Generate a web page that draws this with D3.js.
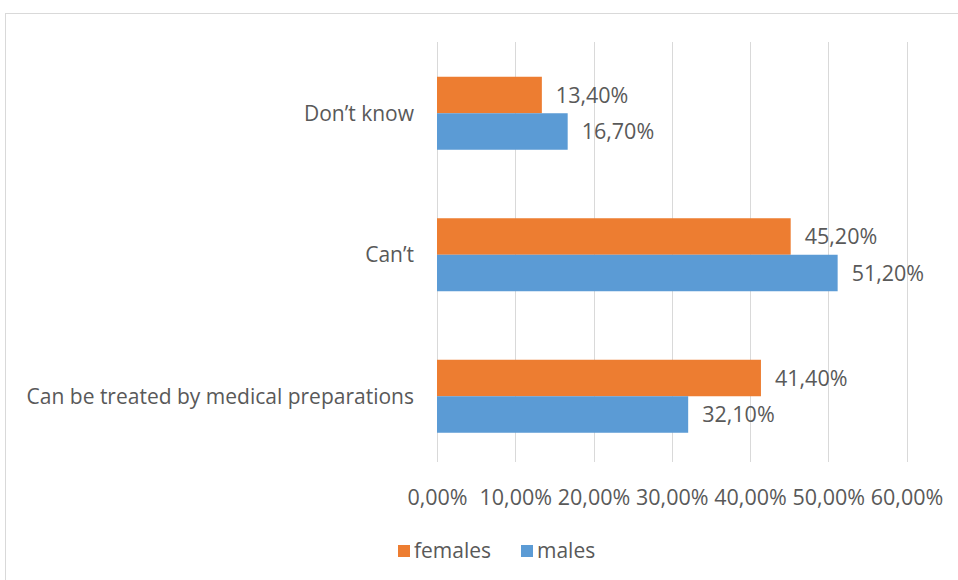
<!DOCTYPE html>
<html><head><meta charset="utf-8">
<script src="https://cdn.jsdelivr.net/npm/d3@7"></script>
<style>body{margin:0;background:#fff;} svg{display:block;font-family:"Open Sans",Lato,sans-serif;}</style>
</head><body>
<svg id="c" width="958" height="580"></svg>
<script>
const categories = ["Don\u2019t know", "Can\u2019t", "Can be treated by medical preparations"];
const seriesNames = ["females", "males"];
const females = [13.4, 45.2, 41.4];
const males = [16.7, 51.2, 32.1];
const ticks = [0, 10, 20, 30, 40, 50, 60];
const colors = ["#ED7D31", "#5B9BD5"];

const svg = d3.select("#c");
const fmt = v => v.toFixed(2).replace(".", ",") + "%";
const FONT = "'Open Sans',Lato,sans-serif";

svg.append("rect").attr("x", 5.5).attr("y", 13.5).attr("width", 1000).attr("height", 1000)
  .attr("fill", "#fff").attr("stroke", "#d9d9d9").attr("stroke-width", 1);

const x = d3.scaleLinear().domain([0, 60]).range([437, 906.5]);
const y = d3.scaleBand().domain(categories).range([42.5, 467]);
const inner = d3.scaleBand().domain(seriesNames).range([0, 73]);

// gridlines
svg.append("g").selectAll("line").data(ticks).join("line")
  .attr("x1", d => Math.round(x(d)) + 0.5).attr("x2", d => Math.round(x(d)) + 0.5)
  .attr("y1", 42).attr("y2", 462).attr("stroke", "#d9d9d9").attr("stroke-width", 1);

// x axis labels
const xa = svg.append("g").attr("transform", "translate(0,497)")
  .call(d3.axisBottom(x).tickValues(ticks).tickSize(0).tickFormat(fmt));
xa.select(".domain").remove();
xa.selectAll("text").attr("fill", "#595959").attr("font-size", 21.5).attr("dy", "0.35em").attr("y", 0)
  .style("font-family", FONT);

// y labels
const ya = svg.append("g").attr("transform", "translate(414,0)")
  .call(d3.axisLeft(y).tickSize(0).tickPadding(0));
ya.select(".domain").remove();
ya.selectAll("text").attr("fill", "#595959").attr("font-size", 21).attr("dy", "0.35em")
  .style("font-family", FONT);

const series = [females, males];
series.forEach((vals, si) => {
  const g = svg.append("g");
  const rows = categories.map((c, i) => ({c, v: vals[i]}));
  const top = c => y(c) + (y.bandwidth() - 73) / 2 + inner(seriesNames[si]);
  g.selectAll("rect").data(rows).join("rect")
    .attr("x", x(0)).attr("y", d => top(d.c))
    .attr("width", d => x(d.v) - x(0)).attr("height", inner.bandwidth())
    .attr("fill", colors[si]);
  g.selectAll("text").data(rows).join("text")
    .attr("x", d => x(d.v) + 14).attr("y", d => top(d.c) + inner.bandwidth() / 2)
    .attr("dy", "0.35em").attr("font-size", 21.5).attr("fill", "#595959")
    .text(d => fmt(d.v));
});

// legend
const leg = svg.append("g").attr("transform", "translate(398,551)");
const items = [{n: "females", x: 0}, {n: "males", x: 123}];
items.forEach((it, i) => {
  leg.append("rect").attr("x", it.x).attr("y", -6).attr("width", 12).attr("height", 12).attr("fill", colors[i]);
  leg.append("text").attr("x", it.x + 16).attr("y", 0).attr("dy", "0.35em")
    .attr("font-size", 21).attr("fill", "#595959").text(it.n);
});
</script>
</body></html>
